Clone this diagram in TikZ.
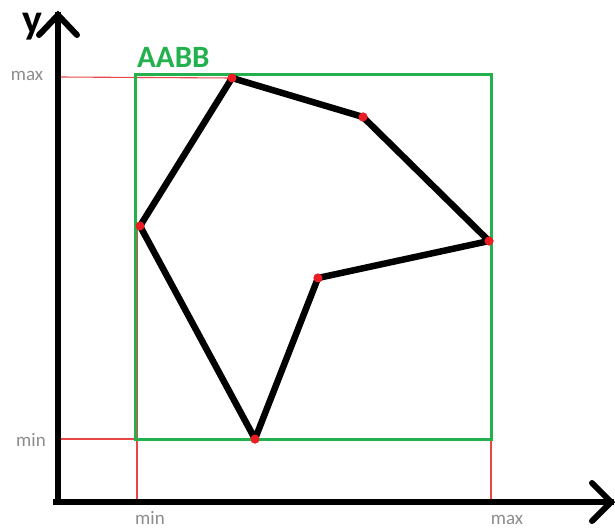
\documentclass[tikz,border=0pt]{standalone}
\usepackage{fontspec}
\setmainfont{Carlito}
\definecolor{pgreen}{RGB}{34,177,76}
\definecolor{pred}{RGB}{237,28,36}
\definecolor{pline}{RGB}{235,70,70}
\definecolor{pgray}{RGB}{140,140,140}
\tikzset{
  axis/.style={line width=6pt, line cap=rect},
  chev/.style={line width=6pt, line cap=round, line join=miter},
  box/.style={draw=pgreen, line width=3pt},
  guide/.style={draw=pline, line width=1.1pt},
  poly/.style={line width=6.5pt, line join=round},
  vdot/.style={circle, fill=pred, inner sep=0pt, minimum size=9pt},
  tick/.style={text=pgray, font=\fontsize{19}{19}\selectfont, inner sep=0pt},
}
\begin{document}
\begin{tikzpicture}[x=1pt,y=-1pt]
\useasboundingbox (0,0) rectangle (615,529);
\coordinate (o) at (58,502);
\node[vdot] (p1) at (232,78) {};
\node[vdot] (p2) at (363,117) {};
\node[vdot] (p3) at (489,241) {};
\node[vdot] (p4) at (318,278) {};
\node[vdot] (p5) at (255,439) {};
\node[vdot] (p6) at (140,226) {};
\coordinate (ymax) at (58,77);
\coordinate (ymin) at (58,439);
\coordinate (xmin) at (137,502);
\coordinate (xmax) at (491,502);
\coordinate (g6) at (137,226);
\coordinate (g3) at (491,241);
% guides
\draw[guide] (ymax) -- (p1.center);
\draw[guide] (ymin) -- (p5.center);
\draw[guide] (g6) -- (xmin);
\draw[guide] (g3) -- (xmax);
% box
\draw[box] (135,75) rectangle (491,439);
\node[text=pgreen, font=\fontsize{31}{31}\selectfont\bfseries, anchor=base west, inner sep=0pt] (lab) at (137,68) {AABB};
% axes
\coordinate (ytip) at (58,15);
\coordinate (xtip) at (611,502);
\draw[axis] (58,502) -- (ytip);
\draw[axis] (56,502) -- (xtip);
\draw[chev] (39,35) -- (ytip) -- (77,35);
\draw[chev] (592,483) -- (xtip) -- (592,521);
\node[font=\fontsize{42}{42}\selectfont\bfseries, anchor=base, inner sep=0pt] (ylab) at (32,34) {y};
% polygon
\draw[poly] (p1.center) -- (p2.center) -- (p3.center) -- (p4.center) -- (p5.center) -- (p6.center) -- cycle;
\foreach \p in {p1,p2,p3,p4,p5,p6} \node[vdot] at (\p) {};
% tick labels
\node[tick, anchor=base] (t1) at (27,81) {max};
\node[tick, anchor=base] (t2) at (31,446) {min};
\node[tick, anchor=base] (t3) at (150,524) {min};
\node[tick, anchor=base] (t4) at (507,524) {max};
\end{tikzpicture}
\end{document}
